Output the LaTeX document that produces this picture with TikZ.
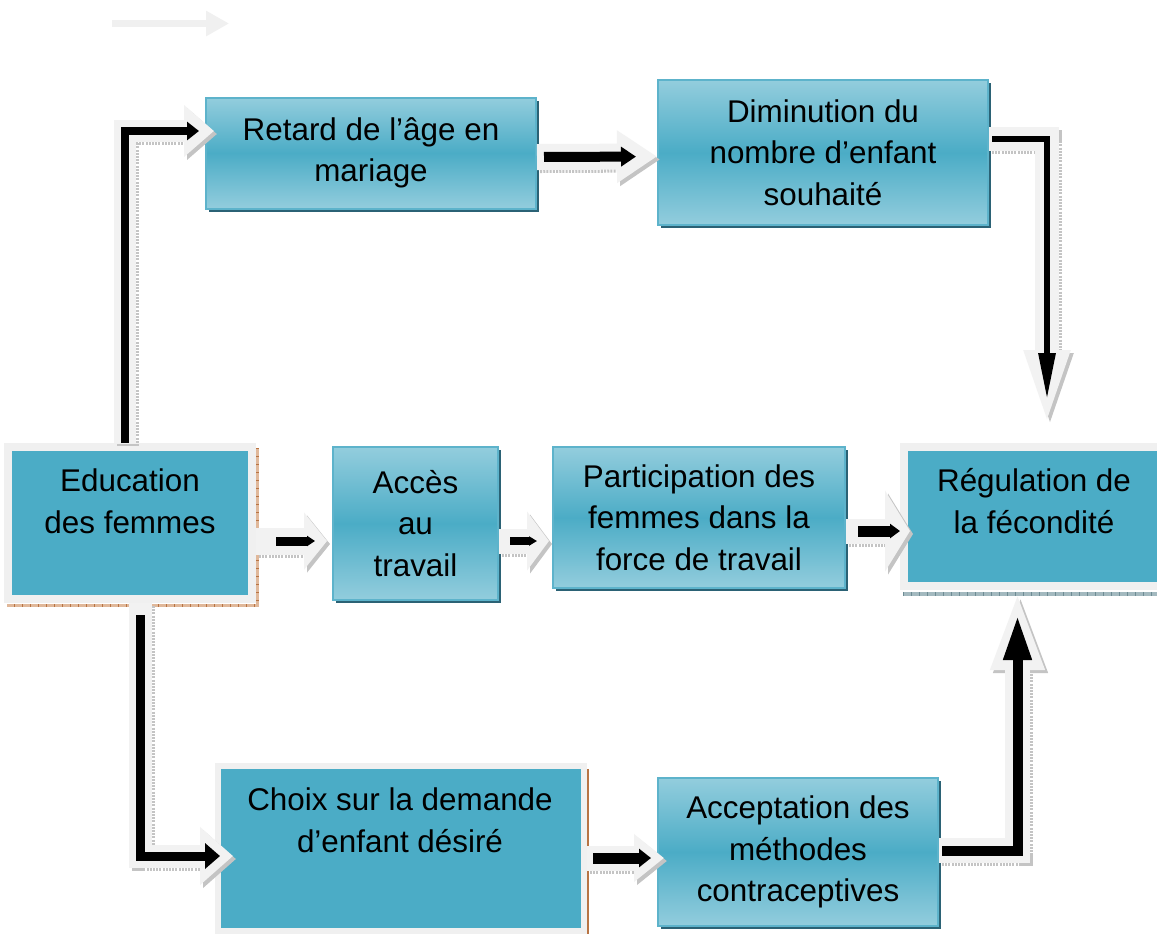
\documentclass[tikz,border=0pt]{standalone}
\usepackage{fontspec}
\setmainfont{Liberation Sans}
\usetikzlibrary{arrows.meta,shadows}
\definecolor{tealM}{HTML}{4BACC6}
\definecolor{tealL}{HTML}{93CDDD}
\definecolor{tealD}{HTML}{2B6275}
\definecolor{tealB}{HTML}{5DB3CB}
\definecolor{frameG}{HTML}{F0F0F0}
\definecolor{arrG}{HTML}{F2F2F2}
\definecolor{hatchG}{HTML}{C4C4C4}
\definecolor{brownH}{HTML}{E0B89A}
\definecolor{brownD}{HTML}{B87444}
\definecolor{tealH}{HTML}{A3B9BF}
\definecolor{tealHD}{HTML}{6E8C94}
\tikzset{
  txt/.style={font=\fontsize{15.7pt}{20.8pt}\selectfont, align=center, text=black, inner sep=0pt},
  gbox/.style={txt, draw=tealB, line width=1pt, top color=tealL, bottom color=tealL, middle color=tealM,
     drop shadow={shadow xshift=1.6pt, shadow yshift=-1.6pt, fill=tealD, opacity=1}},
  fbox/.style={draw=frameG, line width=4pt, fill=tealM, inner sep=0pt},
}
\newcommand\blockarrow[3]{%
  \begin{scope}[transform canvas={xshift=1.5pt,yshift=-1.5pt}]
    \draw[hatchG, line join=miter, dash pattern=on 1pt off 0.6pt, #1] #3;
  \end{scope}
  \draw[arrG, line join=miter, #1] #3;
  \draw[black, line join=miter, #2] #3;
}
\begin{document}
\begin{tikzpicture}[x=0.5pt,y=-0.5pt]
\fill[white] (0,0) rectangle (1157,934);
\useasboundingbox (0,0) rectangle (1157,934);

% decorative arrow at top left
\coordinate (deco-a) at (112,23.5);
\coordinate (deco-b) at (229,23.5);
\draw[frameG, line width=3.5pt, -{Triangle[length=11.5pt,width=12pt]}] (deco-a) -- (deco-b);

% gradient boxes
\node[gbox, minimum width=165pt, minimum height=55.5pt] (retard) at (371,153) {Retard de l’âge en\\mariage};
\node[gbox, minimum width=165pt, minimum height=72.5pt] (dimin) at (823,152.5) {Diminution du\\nombre d’enfant\\souhaité};
\node[gbox, minimum width=82.5pt, minimum height=76.5pt] (acces) at (415.5,523.5) {Accès\\au\\travail};
\node[gbox, minimum width=146pt, minimum height=70.5pt] (partic) at (699,517.5) {Participation des\\femmes dans la\\force de travail};
\node[gbox, minimum width=140pt, minimum height=74pt] (accept) at (798,852) {Acceptation des\\méthodes\\contraceptives};

% flat framed boxes
\node[fbox, minimum width=122pt, minimum height=76pt] (edu) at (130,523) {};
\node[txt] (edu-t) at (130,501) {Education\\des femmes};
\node[fbox, minimum width=130.5pt, minimum height=69.5pt] (regul) at (1034.5,516.5) {};
\node[txt] (regul-t) at (1034,501) {Régulation de\\la fécondité};
\node[fbox, line width=3pt, minimum width=183pt, minimum height=82.5pt] (choix) at (401,848.5) {};
\node[txt] (choix-t) at (400,820) {Choix sur la demande\\d’enfant désiré};

% hatched shadows of the framed boxes
\draw[brownH, line width=1.5pt] ([xshift=0.75pt,yshift=-2.5pt]edu.north east) -- ([xshift=0.75pt,yshift=-1pt]edu.south east) -- ([xshift=1.5pt,yshift=-1pt]edu.south west);
\draw[brownD, line width=1.5pt, dash pattern=on 0.4pt off 3.6pt] ([xshift=0.75pt,yshift=-2.5pt]edu.north east) -- ([xshift=0.75pt,yshift=-1pt]edu.south east) -- ([xshift=1.5pt,yshift=-1pt]edu.south west);
\draw[tealH, line width=2pt] ([xshift=1.5pt,yshift=-2pt]regul.south west) -- ([yshift=-2pt]regul.south east);
\draw[tealHD, line width=2pt, dash pattern=on 0.4pt off 3.6pt] ([xshift=1.5pt,yshift=-2pt]regul.south west) -- ([yshift=-2pt]regul.south east);
\draw[brownD, line width=0.8pt] ([xshift=0.5pt,yshift=-3pt]choix.north east) -- ([xshift=0.5pt]choix.south east);

% connectors
\blockarrow{line width=11pt, -{Triangle[length=15pt,width=25pt]}, shorten >=-4.5pt}
  {line width=4pt, -{Triangle[length=6pt,width=9pt]}, shorten >=3pt}
  {([xshift=-2.5pt]edu.north) |- ([yshift=11pt]retard.west)}
\blockarrow{line width=13pt, -{Triangle[length=20pt,width=25pt]}}
  {line width=5pt, -{Triangle[length=7.5pt,width=9.5pt]}, shorten <=3.5pt, shorten >=10.5pt}
  {([yshift=-2pt]retard.east) -- ([yshift=-2pt]dimin.west)}
\blockarrow{line width=12pt, -{Triangle[length=50pt,width=18pt]}, shorten >=-3.5pt}
  {line width=3pt, -{Triangle[length=23.5pt,width=8pt]}, shorten <=1.5pt, shorten >=21.5pt}
  {([yshift=7pt]dimin.east) -| ([xshift=6.25pt]regul.north)}
\blockarrow{line width=13.5pt, -{Triangle[length=11.5pt,width=28pt]}, shorten >=2.5pt}
  {line width=4.5pt, -{Triangle[length=4pt,width=5pt]}, shorten <=10pt, shorten >=8.5pt}
  {([yshift=-9pt]edu.east) -- ([yshift=-8.75pt]acces.west)}
\blockarrow{line width=12.5pt, -{Triangle[length=11pt,width=29pt]}, shorten >=1.5pt}
  {line width=4pt, -{Triangle[length=4pt,width=4.5pt]}, shorten <=5.5pt, shorten >=7.5pt}
  {([yshift=-8.75pt]acces.east) -- ([yshift=-11.75pt]partic.west)}
\blockarrow{line width=12.5pt, -{Triangle[length=12.5pt,width=40pt]}, shorten >=-5pt}
  {line width=5.5pt, -{Triangle[length=5pt,width=7pt]}, shorten <=6pt}
  {([yshift=-6.75pt]partic.east) -- ([yshift=-7.25pt]regul.west)}
\blockarrow{line width=11.5pt, -{Triangle[length=16.5pt,width=28pt]}, shorten >=-9pt}
  {line width=4.5pt, -{Triangle[length=7.5pt,width=12.5pt]}, shorten <=6pt, shorten >=-2.5pt}
  {([xshift=5.25pt]edu.south) |- ([yshift=-3.75pt]choix.west)}
\blockarrow{line width=12.5pt, -{Triangle[length=15pt,width=23pt]}, shorten >=-3.5pt}
  {line width=5.5pt, -{Triangle[length=6pt,width=9pt]}, shorten <=3pt, shorten >=3pt}
  {([yshift=-4.75pt]choix.east) -- ([yshift=-3pt]accept.west)}
\blockarrow{line width=12.5pt, -{Triangle[length=40pt,width=24pt]}}
  {line width=5pt, -{Triangle[length=22.5pt,width=13pt]}, shorten <=1.5pt, shorten >=12.5pt}
  {([yshift=0.75pt]accept.east) -| ([xshift=-8.5pt]regul.south)}
\end{tikzpicture}
\end{document}
